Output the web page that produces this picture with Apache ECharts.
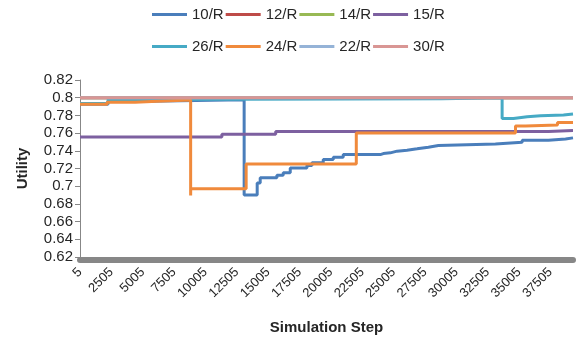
<!DOCTYPE html>
<html>
<head>
<meta charset="utf-8">
<script src="https://cdn.jsdelivr.net/npm/echarts@6/dist/echarts.min.js"></script>
<style>
html,body{margin:0;padding:0;background:#fff;}
#chart{width:579px;height:339px;}
</style>
</head>
<body>
<div id="chart"></div>
<script>
// Breakpoints: [simulation step, utility] — value holds from that step on
const s10R = [[0,0.7925],[2235,0.796],[5425,0.7978],[13085,0.690],[14125,0.7035],[14365,0.7095],[15695,0.7125],[16200,0.7151],[16760,0.7207],[18090,0.7233],[18490,0.7264],[19390,0.7301],[20190,0.7328],[20985,0.7357],[23940,0.7369],[24180,0.7377],[24740,0.7396],[25275,0.7407],[26070,0.7422],[26870,0.7441],[27770,0.7459],[28570,0.7478],[33115,0.7497],[35250,0.752],[37345,0.7534],[38705,0.7546],[39300,0.7546]];
const s12R = [[0,0.8],[39300,0.8]];
const s14R = [[0,0.8],[39300,0.8]];
const s15R = [[0,0.7557],[11310,0.7588],[15600,0.7619],[37345,0.763],[39300,0.763]];
const s26R = [[0,0.7935],[2235,0.798],[3990,0.7988],[28810,0.8],[33650,0.7765],[34555,0.7786],[35645,0.7797],[36710,0.7805],[38545,0.7816],[39300,0.7816]];
const s24R = [[0,0.7925],[2155,0.7948],[4390,0.796],[6145,0.7975],[8820,0.6895],[8825,0.697],[13245,0.7252],[22025,0.760],[34715,0.768],[35510,0.7692],[38065,0.772],[39300,0.772]];
const s22R = [[0,0.8],[39300,0.8]];
const s30R = [[0,0.8],[39300,0.8]];

const seriesNames = ['10/R','12/R','14/R','15/R','26/R','24/R','22/R','30/R'];
const seriesData = [s10R,s12R,s14R,s15R,s26R,s24R,s22R,s30R];
const colors = ['#4a7ebb','#be4b48','#98b954','#7d60a0','#46aac5','#f08a3c','#95b3d7','#d99694'];
const legendRow1 = ['10/R','12/R','14/R','15/R'];
const legendRow2 = ['26/R','24/R','22/R','30/R'];
const xTickLabels = ['5','2505','5005','7505','10005','12505','15005','17505','20005','22505','25005','27505','30005','32505','35005','37505'];
const xStepInterval = 2500;
const xMax = 39300;
const yMin = 0.62, yMax = 0.82, yStep = 0.02;

const chart = echarts.init(document.getElementById('chart'), null, {renderer:'canvas'});
const fontFamily = '"Liberation Sans", Arial, sans-serif';
const legendBase = {
  icon: 'rect', itemWidth: 35, itemHeight: 3, itemGap: 2, left: 152, padding: 0,
  textStyle: {fontFamily, fontSize: 15, color: '#262626'},
  selectedMode: false
};
chart.setOption({
  animation: false,
  color: colors,
  legend: [
    Object.assign({}, legendBase, {top: 7, data: legendRow1}),
    Object.assign({}, legendBase, {top: 39, data: legendRow2})
  ],
  grid: {left: 80, right: 6, top: 80, bottom: 82, containLabel: false, outerBoundsMode: 'none'},
  xAxis: {
    type: 'value', min: 0, max: xMax, interval: xStepInterval,
    offset: 3,
    axisLine: {show: true, lineStyle: {color: '#878787', width: 6}},
    axisTick: {show: false},
    splitLine: {show: false},
    axisLabel: {
      rotate: 45, margin: 10, fontFamily, fontSize: 13, color: '#262626',
      showMaxLabel: false,
      formatter: function (v) {
        const i = Math.round(v / xStepInterval);
        return (Math.abs(v - i * xStepInterval) < 1e-6 && xTickLabels[i] !== undefined) ? xTickLabels[i] : '';
      }
    },
    name: 'Simulation Step', nameLocation: 'middle', nameGap: 60,
    nameTextStyle: {fontFamily, fontSize: 15, fontWeight: 'bold', color: '#262626'}
  },
  yAxis: {
    type: 'value', min: yMin, max: yMax, interval: yStep,
    axisLine: {show: true, lineStyle: {color: '#878787', width: 1}},
    axisTick: {show: true, length: 5, lineStyle: {color: '#878787'}},
    splitLine: {show: false},
    axisLabel: {fontFamily, fontSize: 15, color: '#262626', margin: 7,
      formatter: function (v) { return String(Math.round(v * 100) / 100); }},
    name: 'Utility', nameLocation: 'middle', nameGap: 50,
    nameTextStyle: {fontFamily, fontSize: 15, fontWeight: 'bold', color: '#262626'}
  },
  series: seriesNames.map((n, i) => ({
    name: n, type: 'line', step: 'end', data: seriesData[i],
    showSymbol: false, symbol: 'none',
    lineStyle: {width: 3, color: colors[i]},
    itemStyle: {color: colors[i]}
  }))
});
</script>
</body>
</html>
